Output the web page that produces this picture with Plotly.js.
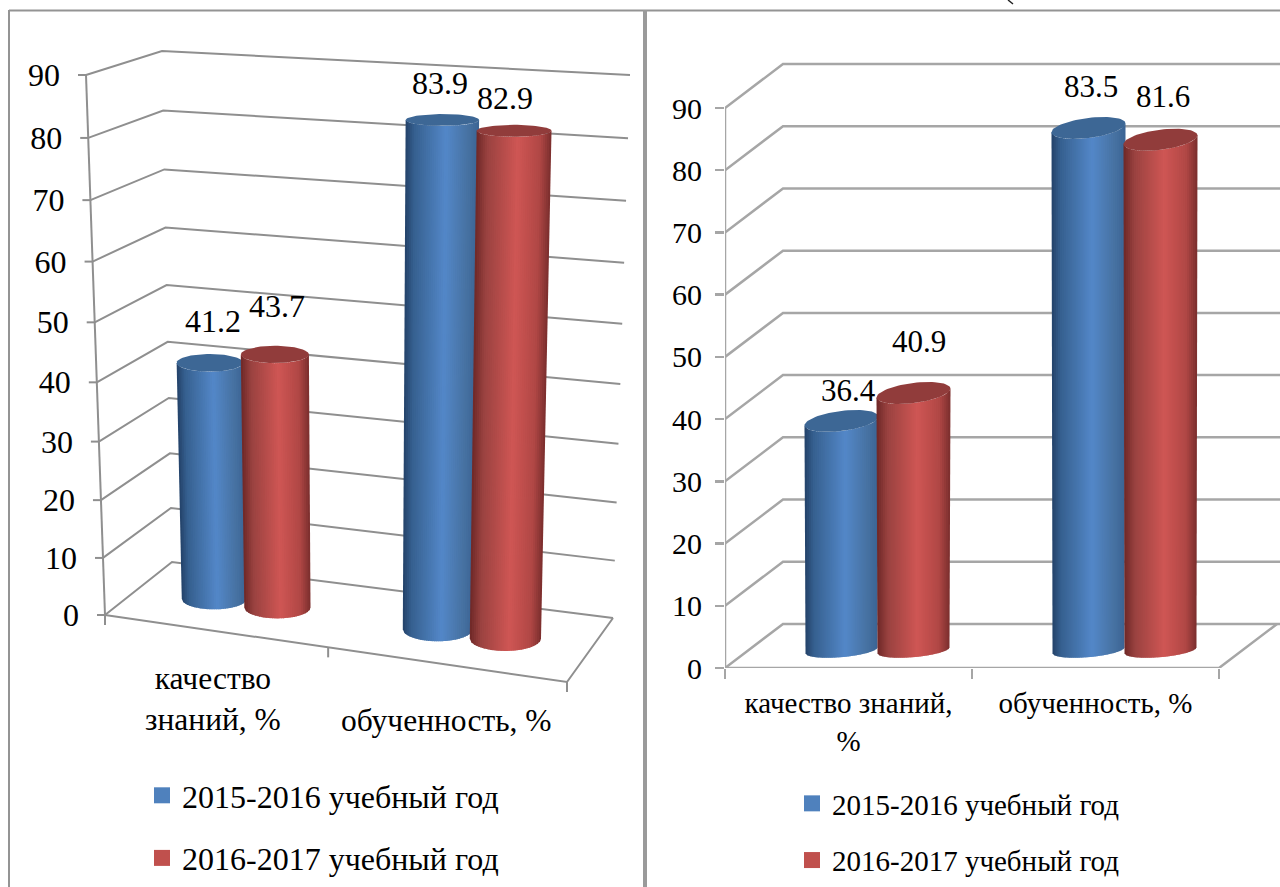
<!DOCTYPE html>
<html><head><meta charset="utf-8">
<script src="https://cdn.plot.ly/plotly-3.0.1.min.js"></script>
<style>html,body{margin:0;padding:0;background:#fff;overflow:hidden}#c{width:1280px;height:887px}</style>
</head><body><div id="c"></div>
<script>
// ---------- data ----------
const seriesNames = ['2015-2016 учебный год', '2016-2017 учебный год'];
const leftCats  = ['качество<br>знаний, %', 'обученность, %'];
const rightCats = ['качество знаний,<br>%', 'обученность, %'];
const left2015  = [41.2, 83.9];
const left2016  = [43.7, 82.9];
const right2015 = [36.4, 83.5];
const right2016 = [40.9, 81.6];
const yTicks = [0,10,20,30,40,50,60,70,80,90];

// ---------- styles ----------
const W = 1280, H = 887;
const FONT = '"Liberation Serif","Times New Roman",serif';
const legendColors = ['#4f81bd', '#c0504d'];
const capColors = ['#3d6795', '#913c3b'];
const ramps = [
  [[0,[35,66,104]],[.12,[54,96,143]],[.55,[83,135,200]],[.85,[71,114,162]],[1,[59,100,148]]],
  [[0,[110,40,39]],[.15,[154,66,64]],[.55,[207,86,84]],[.85,[176,71,69]],[1,[122,46,45]]]
];
function ramp(s, t){
  const r = ramps[s];
  for(let i=1;i<r.length;i++){ if(t<=r[i][0]){
    const f=(t-r[i-1][0])/(r[i][0]-r[i-1][0]);
    const c=r[i-1][1].map((v,k)=>Math.round(v+(r[i][1][k]-v)*f));
    return `rgb(${c.join(',')})`;
  }}
  return `rgb(${r[r.length-1][1].join(',')})`;
}
const traces = [];
const annotations = [];

function line(xs, ys, xa, ya, color, width){
  traces.push({type:'scatter',mode:'lines',x:xs,y:ys,xaxis:xa,yaxis:ya,
    line:{color:color,width:width,simplify:false},hoverinfo:'skip',showlegend:false,cliponaxis:false});
}
// Cylinder built from vertical shaded strips. sx, sy convert pixels into axis units.
function cylinder(base, top, ext, s, xa, ya, sx, sy){
  const N = 36;
  const pt = (c, e, b, alpha, psi) => [c[0]+e*Math.cos(psi)*sx, c[1]+b*Math.sin(psi+alpha)*sy];
  const psiAt = i => Math.PI + Math.acos(Math.max(-1,Math.min(1,1-2*i/N)));
  for(let i=0;i<N;i++){
    const j = Math.min(N, i+1.6);
    const a0 = pt(base, ext.eb, ext.bb, ext.alpha, psiAt(i));
    const a1 = pt(base, ext.eb, ext.bb, ext.alpha, psiAt(j));
    const b0 = pt(top, ext.et, ext.bt, ext.alpha, psiAt(i));
    const b1 = pt(top, ext.et, ext.bt, ext.alpha, psiAt(j));
    const mid = pt(base, ext.eb, ext.bb, ext.alpha, psiAt((i+j)/2));
    const xs=[a0[0]], ys=[a0[1]];
    xs.push(mid[0],a1[0],b1[0],b0[0],a0[0]); ys.push(mid[1],a1[1],b1[1],b0[1],a0[1]);
    traces.push({type:'scatter',mode:'lines',x:xs,y:ys,xaxis:xa,yaxis:ya,fill:'toself',
      fillcolor:ramp(s,(i+.5)/N),line:{width:0},hoverinfo:'skip',showlegend:false,cliponaxis:false});
  }
  const cx=[],cy=[];
  for(let k=0;k<=72;k++){ const p=pt(top,ext.et,ext.bt,ext.alpha,k/72*2*Math.PI); cx.push(p[0]); cy.push(p[1]); }
  traces.push({type:'scatter',mode:'lines',x:cx,y:cy,xaxis:xa,yaxis:ya,fill:'toself',
    fillcolor:capColors[s],line:{width:0},hoverinfo:'skip',showlegend:false,cliponaxis:false});
}
function label(text, x, y, xa, ya, dx, dy, size){
  annotations.push({text:text,x:x,y:y,xref:xa,yref:ya,showarrow:false,xshift:dx,yshift:dy,
    font:{family:FONT,size:size,color:'#000'},xanchor:'center',yanchor:'middle'});
}

// ---------- left panel (perspective box) ----------
const LG = '#8f8f8f';
const C = {FL0:[105,615],FL1:[86,75],BL0:[172,562],BL1:[162,51],BR0:[613,618],BR1:[630,75],FR0:[567,682],FR1:[580,105]};
const warpS = v => { const s=v/90; return s+0.055*s*(s-1); };
const warpU = u => u+0.068*u*(u-1);
function lerp(a,b,t){ return [a[0]+(b[0]-a[0])*t, a[1]+(b[1]-a[1])*t]; }
function P(u,d,v){
  const s=warpS(v), w=warpU(u);
  const f=lerp(lerp(C.FL0,C.FR0,w),lerp(C.FL1,C.FR1,w),s);
  const b=lerp(lerp(C.BL0,C.BR0,w),lerp(C.BL1,C.BR1,w),s);
  return lerp(f,b,d);
}
yTicks.forEach(v=>{
  const a=P(0,0,v), b=P(0,1,v), c=P(1,1,v);
  line([a[0],b[0],c[0]],[a[1],b[1],c[1]],'x','y',LG,2);
  line([a[0]-8,a[0]],[a[1],a[1]],'x','y',LG,2);
});
{
  const a=P(0,0,0), e=P(1,0,0), c=P(1,1,0), t=P(0,0,90);
  line([t[0],a[0]],[t[1],a[1]],'x','y',LG,2);
  line([a[0],e[0],c[0]],[a[1],e[1],c[1]],'x','y',LG,2);
  [0,.5,1].forEach(u=>{ const p=P(u,0,0); line([p[0],p[0]],[p[1],p[1]+10],'x','y',LG,2); });
}
traces.push({type:'scatter',mode:'text',xaxis:'x',yaxis:'y',showlegend:false,hoverinfo:'skip',cliponaxis:false,
  x:yTicks.map(v=>P(0,0,v)[0]-26), y:yTicks.map(v=>P(0,0,v)[1]+3), text:yTicks.map(String),
  textposition:'middle left', textfont:{family:FONT,size:32,color:'#000'}});

const leftSeries=[left2015,left2016];
const leftOffsets=[[[3,42],[2,48]],[[-2,37],[-9,33]]];
[0,1].forEach(i=>[0,1].forEach(s=>{
  const u=(i+.5)/2+(s-.5)*0.145;
  const v=leftSeries[s][i];
  const base=P(u,.5,0), top=P(u,.5,v);
  const sv=warpS(v);
  cylinder(base,top,{eb:31.5+5*u,et:31.5+5*u+2*sv,bb:10+3*u,bt:11.5-6*sv,alpha:0},s,'x','y',1,-1);
  const o=leftOffsets[i][s];
  label(v.toFixed(1),top[0],top[1],'x','y',o[0],o[1],32);
}));
annotations.push({text:leftCats[0],x:213,y:699,xref:'x',yref:'y',showarrow:false,align:'center',
  font:{family:FONT,size:31.5,color:'#000'}});
annotations.push({text:leftCats[1],x:446,y:720,xref:'x',yref:'y',showarrow:false,
  font:{family:FONT,size:31.5,color:'#000'}});

// ---------- right panel (oblique box on real axes) ----------
const RG = '#a6a6a6';
const pxPerCat = 247, pxPerVal = 6.222;
const depthX = 58/pxPerCat, depthY = 44/pxPerVal;
const X0 = -.5, X1 = 1.5;
yTicks.forEach(v=>{
  line([X0,X0+depthX,X0+depthX+555/pxPerCat],[v,v+depthY,v+depthY],'x2','y2',RG,2.5);
});
line([X0,X0],[0,90],'x2','y2',RG,2.5);
line([X0,X1,X1+depthX],[0,0,depthY],'x2','y2',RG,2.5);

const rightSeries=[right2015,right2016];
const rightOffsets=[[[7,33],[5,54]],[[2,44],[2,46]]];
[0,1].forEach(i=>[0,1].forEach(s=>{
  const v=rightSeries[s][i];
  const cx=i+(s-.5)*0.2915+.1174;
  const y0=2.85, y1=3.3;
  cylinder([cx,y0],[cx,y1+v],{eb:36,et:37,bb:7.5,bt:11,alpha:Math.asin(.4)},s,'x2','y2',1/pxPerCat,1/pxPerVal);
  const o=rightOffsets[i][s];
  label(v.toFixed(1),cx,y0+v,'x2','y2',o[0],o[1],31);
}));

// ---------- legends ----------
seriesNames.forEach((n,s)=>{
  ['legend','legend2'].forEach((lg,k)=>{
    traces.push({type:'scatter',mode:'markers',x:[null],y:[null],xaxis:k?'x2':'x',yaxis:k?'y2':'y',name:n,
      legend:lg,legendgroup:lg+s,showlegend:true,marker:{symbol:'square',size:16,color:legendColors[s]}});
  });
});

const layout = {
  width:W,height:H,margin:{l:0,r:0,t:0,b:0,autoexpand:false},paper_bgcolor:'#fff',plot_bgcolor:'rgba(0,0,0,0)',
  showlegend:true,hovermode:false,
  xaxis:{domain:[0,640/W],range:[0,640],visible:false,fixedrange:true},
  yaxis:{domain:[0,1],range:[H,0],visible:false,fixedrange:true},
  xaxis2:{domain:[725/W,1],range:[X0,X0+555/pxPerCat],anchor:'y2',showgrid:false,zeroline:false,showline:false,
    tickmode:'array',tickvals:[0,1],ticktext:rightCats,ticks:'',ticklabelstandoff:15,
    tickfont:{family:FONT,size:29,color:'#000'},
    minor:{tickmode:'array',tickvals:[-.5,.5,1.5],ticks:'outside',ticklen:10,tickwidth:2.5,tickcolor:RG,showgrid:false}},
  yaxis2:{domain:[(H-668)/H,(H-60)/H],range:[0,608/pxPerVal],anchor:'x2',showgrid:false,zeroline:false,showline:false,
    tickmode:'array',tickvals:yTicks,ticktext:yTicks.map(String),ticks:'outside',ticklen:9,tickwidth:2.5,tickcolor:RG,
    ticklabelstandoff:7,tickfont:{family:FONT,size:30,color:'#000'}},
  legend:{x:142/W,y:1-(768/H),xanchor:'left',yanchor:'top',xref:'paper',yref:'paper',traceorder:'grouped',tracegroupgap:18,
    bgcolor:'rgba(0,0,0,0)',font:{family:FONT,size:32,color:'#000'},itemclick:false,itemdoubleclick:false},
  legend2:{x:792/W,y:1-(778/H),xanchor:'left',yanchor:'top',xref:'paper',yref:'paper',traceorder:'grouped',tracegroupgap:16,
    bgcolor:'rgba(0,0,0,0)',font:{family:FONT,size:29,color:'#000'},itemclick:false,itemdoubleclick:false},
  annotations:annotations,
  shapes:[
    {type:'line',xref:'paper',yref:'paper',x0:9/W,x1:1,y0:1-10.5/H,y1:1-10.5/H,line:{color:'#949494',width:2},layer:'below'},
    {type:'line',xref:'paper',yref:'paper',x0:9/W,x1:9/W,y0:1-10/H,y1:0,line:{color:'#949494',width:2},layer:'below'},
    {type:'line',xref:'paper',yref:'paper',x0:645/W,x1:645/W,y0:1-10/H,y1:0,line:{color:'#9a9a9a',width:4},layer:'below'},
    {type:'line',xref:'paper',yref:'paper',x0:1008/W,x1:1013/W,y0:1,y1:1-4/H,line:{color:'#222',width:1.5},layer:'above'}
  ]
};
Plotly.newPlot('c',traces,layout,{displayModeBar:false,staticPlot:true});
</script></body></html>
